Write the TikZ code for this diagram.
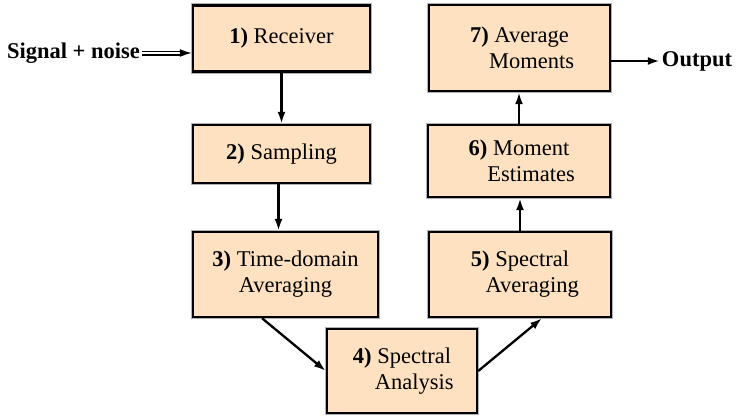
\documentclass[tikz,border=0pt]{standalone}
\usepackage{fontspec}
\setmainfont{Liberation Serif}
\usetikzlibrary{arrows.meta,calc}

\definecolor{boxfill}{RGB}{253,225,192}

\begin{document}
\begin{tikzpicture}[
    x=1pt, y=-1pt,
    font=\rmfamily\fontsize{22.5}{26}\selectfont,
    block/.style={draw=black, line width=2.4pt, fill=boxfill, inner sep=0pt, align=center,
        preaction={draw=gray!60, line width=4.6pt}},
    arrow/.style={-{Latex[length=12pt,width=8pt]}, line width=2.3pt},
    dblarrow/.style={-{Latex[length=12pt,width=8pt]}, double=white, double distance=2pt, line width=1.5pt},
    iolabel/.style={font=\rmfamily\fontsize{22.5}{26}\selectfont\bfseries, inner sep=2pt}
]
\useasboundingbox (0,0) rectangle (738,415);

% processing chain
\node[block, minimum width=177pt, minimum height=66pt] (rcv) at (281.5,38.5) {\textbf{1)} Receiver};
\node[block, minimum width=177pt, minimum height=58pt] (smp) at (281.5,154) {\textbf{2)} Sampling};
\node[block, minimum width=185pt, minimum height=85pt] (tda) at (285.5,274.5) {\textbf{3)} Time-domain\\Averaging};
\node[block, minimum width=150pt, minimum height=84pt] (spa) at (402,371) {\textbf{4)} Spectral\\\hphantom{\textbf{4)} }Analysis};
\node[block, minimum width=182pt, minimum height=85pt] (sav) at (520,274.5) {\textbf{5)} Spectral\\\hphantom{\textbf{5)} }Averaging};
\node[block, minimum width=182pt, minimum height=72pt] (mom) at (519,161) {\textbf{6)} Moment\\\hphantom{\textbf{6)} }Estimates};
\node[block, minimum width=181pt, minimum height=86pt] (avg) at (519.5,48) {\textbf{7)} Average\\\hphantom{\textbf{7)} }Moments};

% input and output
\node[iolabel] (sig) at (73.5,53) {Signal + noise};
\node[iolabel] (out) at (697,61) {Output};

\coordinate (smpout) at ($(smp.south)+(-3,0)$);
\coordinate (tdaout) at ($(tda.south)+(-23.5,0)$);
\coordinate (savin) at ($(sav.south)+(22,0)$);

\draw[dblarrow] (sig.east) -- (sig.east -| rcv.west);
\draw[arrow] (rcv.south) -- (rcv.south |- smp.north);
\draw[arrow] (smpout) -- (smpout |- tda.north);
\draw[arrow] (tdaout) -- (spa.west);
\draw[arrow] (spa.east) -- (savin);
\draw[arrow] (sav.north) -- (sav.north |- mom.south);
\draw[arrow] (mom.north) -- (mom.north |- avg.south);
\draw[arrow] (out.west -| avg.east) -- (out.west);
\end{tikzpicture}
\end{document}
